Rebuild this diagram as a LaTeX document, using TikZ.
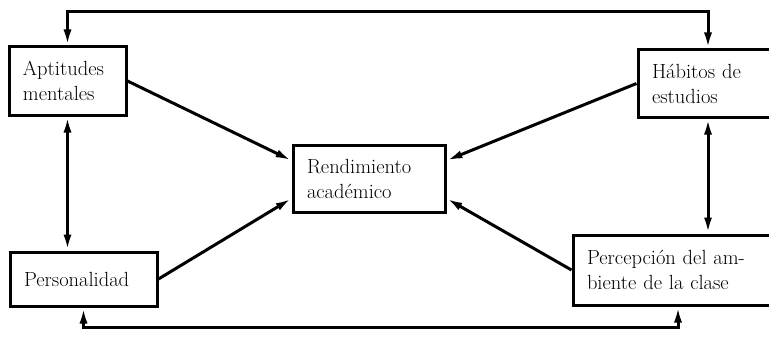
\documentclass[tikz,border=0pt]{standalone}
\usetikzlibrary{arrows.meta}
\tikzset{
  caja/.style={draw,line width=3pt,align=left,inner xsep=14pt,inner ysep=0pt,font=\fontsize{20.5}{25}\selectfont},
  punta/.style={Latex[length=16pt,width=8pt]},
  flecha/.style={line width=3pt,-{Latex[length=16pt,width=8pt]}},
  dobleflecha/.style={line width=3pt,{Latex[length=16pt,width=8pt]}-{Latex[length=16pt,width=8pt]}}
}
\begin{document}
\begin{tikzpicture}[x=1pt,y=-1pt]
        \clip (0,0) rectangle (769,337);
        \fill[white] (0,0) rectangle (769,337);
        \node[caja,text width=89pt,minimum height=68pt](apt)at(67.5,81){Aptitudes\\mentales};
        \node[caja,text width=112pt,minimum height=67pt](hab)at(708,83.5){Hábitos de\\estudios};
        \node[caja,text width=124pt,minimum height=67pt](ren)at(369,178.5){Rendimiento\\académico};
        \node[caja,text width=119pt,minimum height=54pt](per)at(83.5,279){Personalidad};
        \node[caja,text width=182pt,minimum height=70pt](amb)at(678,270){Percepción del am-\\biente de la clase};
        % lazos arriba y abajo
        \draw[dobleflecha](apt.north)--(apt.north|-0,12)-|(hab.north);
        \draw[dobleflecha](per.south)--(per.south|-0,327)-|(amb.south);
        % verticales
        \draw[dobleflecha](apt.south)--(apt.south|-per.north);
        \draw[dobleflecha](hab.south)--(hab.south|-amb.north);
        % hacia el rendimiento
        \draw[flecha](apt.east)--([yshift=18pt]ren.west);
        \draw[flecha](per.east)--([yshift=-20pt]ren.west);
        \draw[flecha](hab.west)--([yshift=18pt]ren.east);
        \draw[flecha](amb.west)--([yshift=-20pt]ren.east);
    \end{tikzpicture}
\end{document}
